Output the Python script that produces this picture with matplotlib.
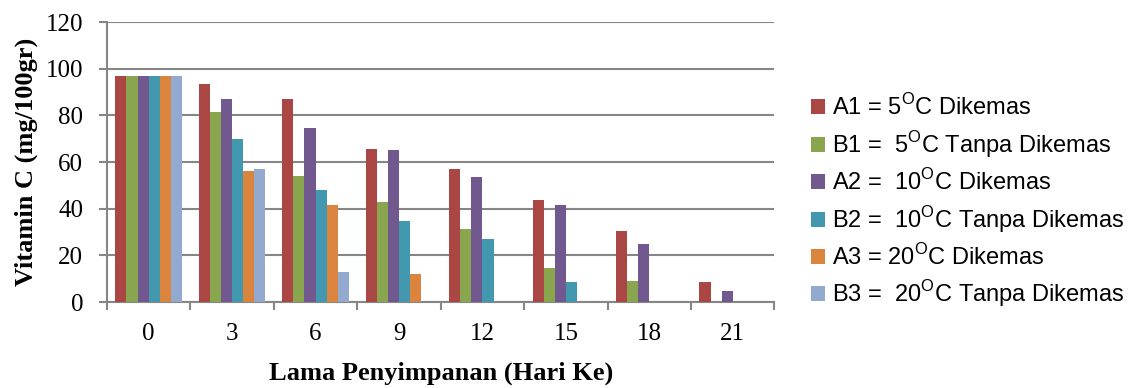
import numpy as np
import matplotlib
matplotlib.use('Agg')
import matplotlib.pyplot as plt

# data
days = ['0', '3', '6', '9', '12', '15', '18', '21']
A1 = [97, 93.3, 87, 65.7, 56.9, 43.6, 30.4, 8.4]
B1 = [97, 81.3, 53.9, 42.9, 31.3, 14.6, 9.1, 0]
A2 = [97, 87, 74.6, 65.3, 53.6, 41.6, 25, 4.7]
B2 = [97, 70.1, 48.1, 34.7, 27, 8.4, 0, 0]
A3 = [97, 56.1, 41.4, 12, 0, 0, 0, 0]
B3 = [97, 57, 12.7, 0, 0, 0, 0, 0]

series = [A1, B1, A2, B2, A3, B3]
names = ['A1 = 5$^\\mathregular{O}$C Dikemas',
         'B1 =  5$^\\mathregular{O}$C Tanpa Dikemas',
         'A2 =  10$^\\mathregular{O}$C Dikemas',
         'B2 =  10$^\\mathregular{O}$C Tanpa Dikemas',
         'A3 = 20$^\\mathregular{O}$C Dikemas',
         'B3 =  20$^\\mathregular{O}$C Tanpa Dikemas']
colors = ['#AA4643', '#89A54E', '#71588F', '#4198AF', '#DB843D', '#93A9CF']

fig = plt.figure(figsize=(11.44, 3.88), dpi=100)
ax = fig.add_axes([0.0935, 0.2216, 0.5835, 0.7214])

x = np.arange(len(days))
w = 0.133
for i, (s, c, n) in enumerate(zip(series, colors, names)):
    ax.bar(x + (i - 2.5) * w, s, width=w, color=c, label=n, zorder=3)

ax.set_ylim(0, 120)
ax.set_xlim(-0.5, len(days) - 0.5)
ax.set_yticks(range(0, 121, 20))
ax.grid(axis='y', color='#868686', linewidth=1.5, zorder=0)

# category boundaries as major ticks, labels on minor ticks
ax.set_xticks(np.arange(-0.5, len(days), 1))
ax.set_xticklabels([])
ax.set_xticks(x, minor=True)
ax.set_xticklabels(days, minor=True)
ax.tick_params(axis='x', which='major', length=6, width=1.5, color='#868686')
ax.tick_params(axis='x', which='minor', length=0, pad=15)
ax.tick_params(axis='y', length=6, width=1.5, color='#868686', pad=11)
for lab in ax.get_xticklabels(minor=True) + ax.get_yticklabels():
    lab.set_fontfamily('Liberation Serif')
    lab.set_fontsize(18)

for sp in ['top', 'right']:
    ax.spines[sp].set_visible(False)
for sp in ['left', 'bottom']:
    ax.spines[sp].set_color('#868686')
    ax.spines[sp].set_linewidth(1.5)

ax.set_xlabel('Lama Penyimpanan (Hari Ke)', fontfamily='Liberation Serif',
              fontweight='bold', fontsize=19, labelpad=12)
ax.set_ylabel('Vitamin C (mg/100gr)', fontfamily='Liberation Serif',
              fontweight='bold', fontsize=19, labelpad=6)

leg = fig.legend(loc='center left', bbox_to_anchor=(0.69, 0.48), frameon=False,
                 prop={'family': 'Liberation Sans', 'size': 17},
                 handlelength=0.6, handleheight=0.6, handletextpad=0.3,
                 labelspacing=0.38)

plt.savefig('out.png', dpi=100)
